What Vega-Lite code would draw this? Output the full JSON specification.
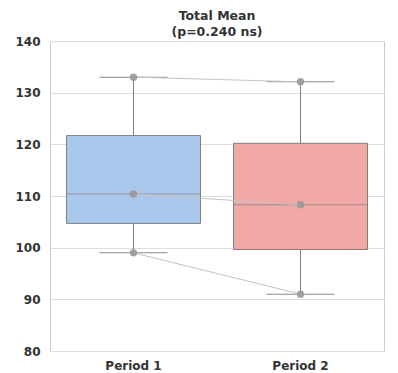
{
  "$schema": "https://vega.github.io/schema/vega-lite/v6.json",
  "width": 334,
  "height": 310,
  "autosize": "none",
  "padding": {"left": 50, "top": 41, "right": 14, "bottom": 22},
  "background": "white",
  "title": {
    "text": ["Total Mean", "(p=0.240 ns)"],
    "font": "DejaVu Sans",
    "fontSize": 12.5,
    "fontWeight": "bold",
    "color": "#333333",
    "lineHeight": 16,
    "offset": -3,
    "anchor": "middle"
  },
  "data": {
    "values": [
      {"subject": "A", "period": "Period 1", "value": 133.0},
      {"subject": "B", "period": "Period 1", "value": 110.4},
      {"subject": "C", "period": "Period 1", "value": 99.0},
      {"subject": "A", "period": "Period 2", "value": 132.1},
      {"subject": "B", "period": "Period 2", "value": 108.3},
      {"subject": "C", "period": "Period 2", "value": 91.0}
    ]
  },
  "encoding": {
    "x": {
      "field": "period",
      "type": "nominal",
      "sort": ["Period 1", "Period 2"],
      "scale": {"paddingInner": 0, "paddingOuter": 0},
      "axis": {"title": null, "labelAngle": 0, "ticks": false, "domain": false, "grid": false, "labelPadding": 9}
    },
    "y": {
      "field": "value",
      "type": "quantitative",
      "scale": {"domain": [80, 140], "nice": false, "zero": false},
      "axis": {"title": null, "values": [80, 90, 100, 110, 120, 130, 140], "ticks": false, "domain": false, "grid": true, "labelPadding": 10}
    }
  },
  "layer": [
    {
      "mark": {
        "type": "boxplot",
        "extent": "min-max",
        "size": 134,
        "box": {"stroke": "#7f7f7f", "strokeWidth": 1},
        "median": {"color": "#7f7f7f", "strokeWidth": 1},
        "rule": {"color": "#7f7f7f", "strokeWidth": 1},
        "ticks": {"color": "#8a8a8a", "size": 68, "thickness": 1}
      },
      "encoding": {
        "color": {
          "field": "period",
          "type": "nominal",
          "scale": {"domain": ["Period 1", "Period 2"], "range": ["#aac8ec", "#f1a9a7"]},
          "legend": null
        }
      }
    },
    {
      "mark": {"type": "line", "color": "#c4c4c4", "strokeWidth": 1},
      "encoding": {"detail": {"field": "subject"}}
    },
    {
      "mark": {"type": "circle", "color": "#999999", "size": 55, "opacity": 0.9},
      "encoding": {}
    }
  ],
  "config": {
    "view": {"stroke": "#cccccc", "strokeWidth": 1},
    "axis": {
      "labelFont": "DejaVu Sans",
      "labelFontSize": 12,
      "labelFontWeight": "bold",
      "labelColor": "#333333",
      "gridColor": "#dddddd",
      "gridWidth": 1
    }
  }
}
